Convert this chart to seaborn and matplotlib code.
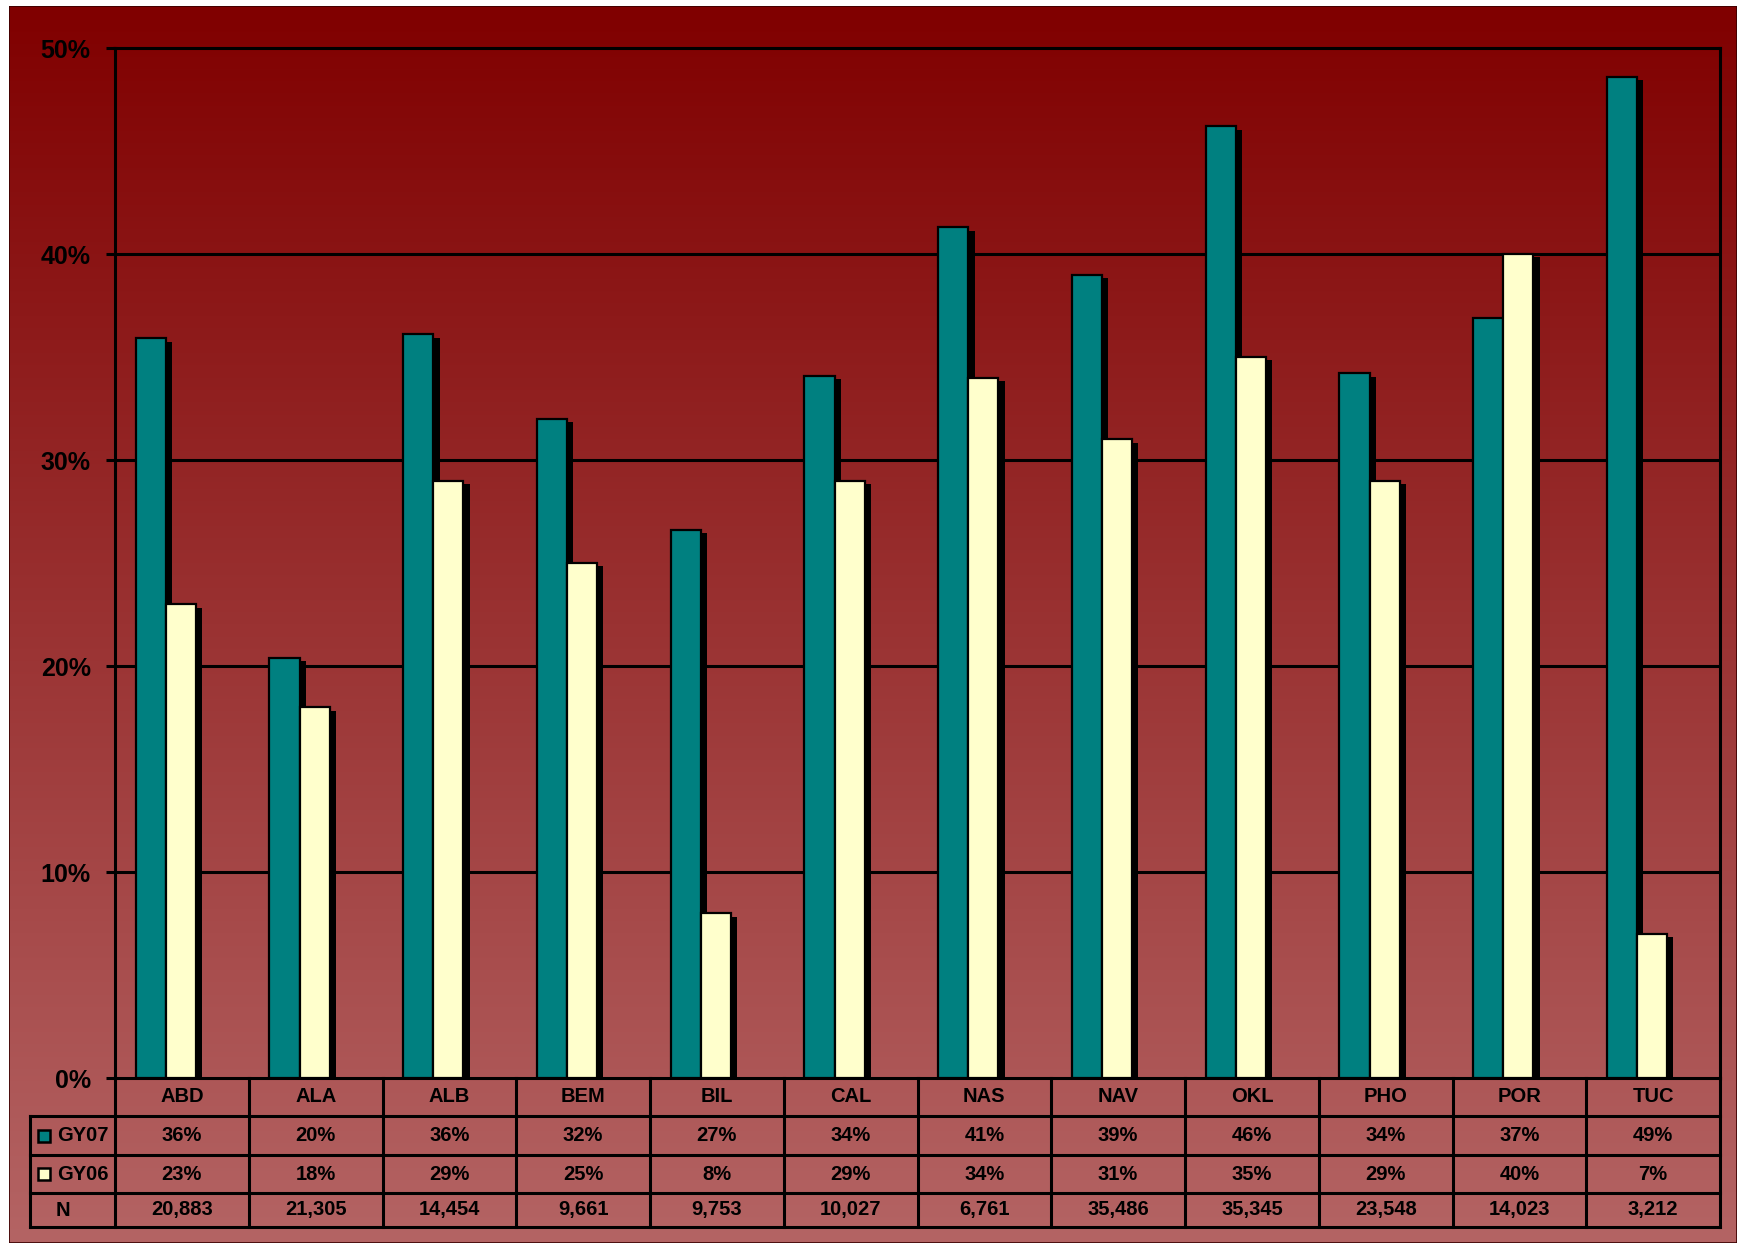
import numpy as np
import pandas as pd
import matplotlib
matplotlib.use("Agg")
import matplotlib.pyplot as plt
import matplotlib.patheffects as pe
from matplotlib.lines import Line2D
from matplotlib.patches import Rectangle
import seaborn as sns

# ---- data -------------------------------------------------------------
sites = ["ABD", "ALA", "ALB", "BEM", "BIL", "CAL", "NAS", "NAV", "OKL", "PHO", "POR", "TUC"]
gy07 = [35.9, 20.4, 36.1, 32.0, 26.6, 34.1, 41.3, 39.0, 46.2, 34.2, 36.9, 48.6]
gy06 = [23, 18, 29, 25, 8, 29, 34, 31, 35, 29, 40, 7]
n_counts = [20883, 21305, 14454, 9661, 9753, 10027, 6761, 35486, 35345, 23548, 14023, 3212]
series_names = ["GY07", "GY06"]
y_ticks = [0, 10, 20, 30, 40, 50]

colors = {"GY07": "#008080", "GY06": "#FFFFCC"}

df = pd.DataFrame({
    "site": sites * 2,
    "series": ["GY07"] * len(sites) + ["GY06"] * len(sites),
    "pct": gy07 + gy06,
})

# ---- styling ----------------------------------------------------------
sns.set_style("ticks")
plt.rcParams["font.family"] = ["Liberation Sans", "DejaVu Sans"]
plt.rcParams["font.weight"] = "bold"
plt.rcParams["text.color"] = "black"
plt.rcParams["ytick.color"] = "black"
plt.rcParams["ytick.labelcolor"] = "black"

W, H = 1739, 1244
fig = plt.figure(figsize=(W / 100, H / 100), dpi=100)
fig.patch.set_facecolor("white")

# gradient panel behind the chart
bg = fig.add_axes([9 / W, 1 - 1243 / H, (1737 - 9) / W, (1243 - 6) / H], zorder=0)
top = np.array([128, 0, 0]) / 255
bot = np.array([180, 100, 100]) / 255
t = np.linspace(0, 1, 512)[:, None, None]
grad = top * (1 - t) + bot * t
grad = np.repeat(grad, 2, axis=1)
bg.imshow(grad, aspect="auto", extent=[0, 1, 0, 1], origin="upper")
bg.set_xlim(0, 1)
bg.set_ylim(0, 1)
bg.axis("off")
bg.add_patch(Rectangle((0, 0), 1, 1, transform=bg.transAxes, fill=False,
                       edgecolor="#3a0000", lw=1.2))

# main plot area
ax = fig.add_axes([115 / W, 1 - 1078 / H, (1720 - 115) / W, (1078 - 48) / H], zorder=1)
ax.set_facecolor("none")

sns.barplot(data=df, x="site", y="pct", hue="series", hue_order=series_names,
            order=sites, palette=colors, width=0.45, edgecolor="black",
            linewidth=1.6, legend=False, ax=ax, saturation=1)

shadow = [pe.SimplePatchShadow(offset=(4.5, -2.4), shadow_rgbFace="black", alpha=1.0),
          pe.Normal()]
for p in ax.patches:
    p.set_path_effects(shadow)
    p.set_zorder(3)

x0, x1 = -0.38, len(sites) - 0.38
ax.set_xlim(x0, x1)
ax.set_ylim(0, 50)
ax.set_yticks(y_ticks)
ax.set_yticklabels([f"{v}%" for v in y_ticks], fontsize=18, fontweight="bold",
                   color="black")
ax.tick_params(axis="y", length=6.5, width=2.2, color="black", labelcolor="black", pad=11)
ax.tick_params(axis="x", length=0, labelbottom=False)
ax.set_xlabel("")
ax.set_ylabel("")
for v in y_ticks[1:-1]:
    ax.axhline(v, color="black", lw=2.2, zorder=1)
for s in ax.spines.values():
    s.set_visible(True)
    s.set_color("black")
    s.set_linewidth(2.2)

# ---- data table below the axis ---------------------------------------
tr = ax.get_xaxis_transform()
ax_h = 1078 - 48
row_px = [1078, 1116, 1155, 1193, 1227]
row_y = [-(r - 1078) / ax_h for r in row_px]
px_per_unit = (1720 - 115) / (x1 - x0)
x_left = x0 - (115 - 30) / px_per_unit

def hline(y, xa, xb):
    ax.add_line(Line2D([xa, xb], [y, y], transform=tr, color="black", lw=2.2,
                       clip_on=False, solid_capstyle="projecting"))

def vline(x, ya, yb):
    ax.add_line(Line2D([x, x], [ya, yb], transform=tr, color="black", lw=2.2,
                       clip_on=False, solid_capstyle="projecting"))

for y in row_y[1:]:
    hline(y, x_left, x1)
for i in range(len(sites) + 1):
    vline(x0 + i, row_y[0], row_y[-1])
vline(x_left, row_y[1], row_y[-1])

def mid(k):
    return (row_y[k] + row_y[k + 1]) / 2

fs = 14.5
txt = dict(transform=tr, va="center", fontsize=fs, fontweight="bold",
           color="black", clip_on=False)
for i, s in enumerate(sites):
    cx = x0 + i + 0.5
    ax.text(cx, mid(0), s, ha="center", **txt)
    ax.text(cx, mid(1), f"{gy07[i]:.0f}%", ha="center", **txt)
    ax.text(cx, mid(2), f"{gy06[i]:.0f}%", ha="center", **txt)
    ax.text(cx, mid(3), f"{n_counts[i]:,}", ha="center", **txt)

key_x = x0 - (115 - 44) / px_per_unit
lab_x = x0 - (115 - 57) / px_per_unit
for k, name in enumerate(series_names, start=1):
    ax.plot([key_x], [mid(k)], marker="s", markersize=8.5, markerfacecolor=colors[name],
            markeredgecolor="black", markeredgewidth=1.8, transform=tr, clip_on=False)
    ax.text(lab_x, mid(k), name, ha="left", **txt)
ax.text(x0 - (115 - 63) / px_per_unit, mid(3), "N", ha="center", **txt)

fig.savefig("out.png", dpi=100)
